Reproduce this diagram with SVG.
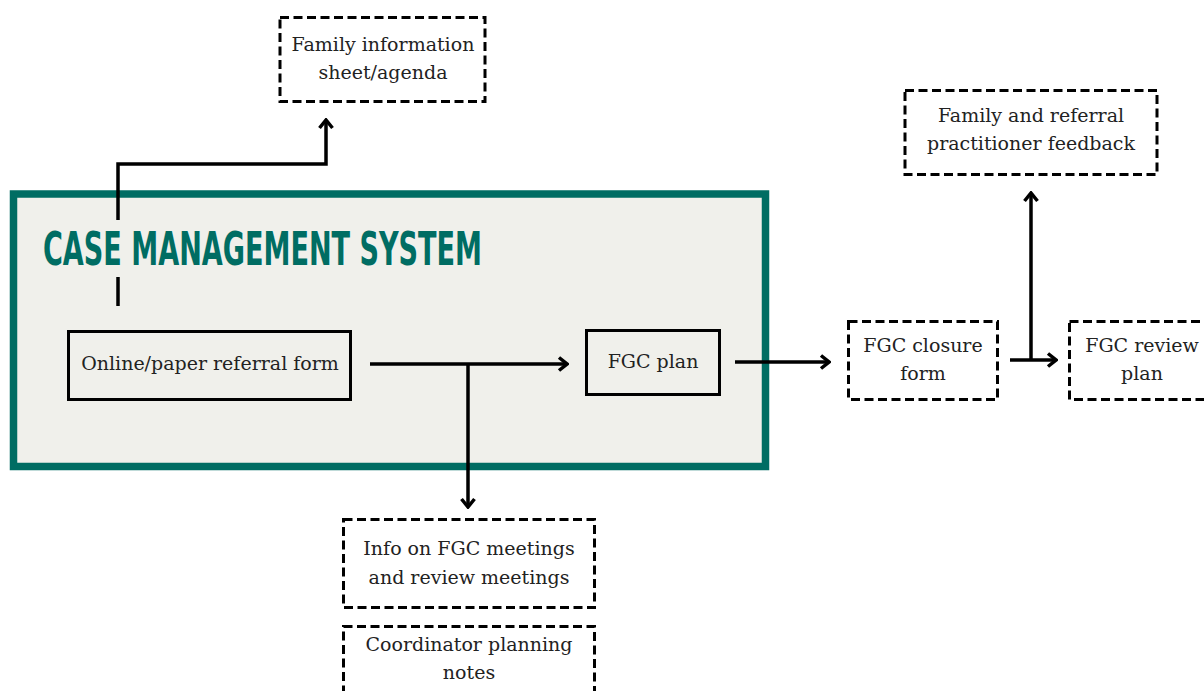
<svg xmlns="http://www.w3.org/2000/svg" width="1204" height="691" viewBox="0 0 1204 691">
<style>
.t{font-family:"DejaVu Serif","Liberation Serif",serif;font-size:19px;fill:#222;text-anchor:middle}
.solid{fill:none;stroke:#000;stroke-width:3}
.dash{fill:#fff;stroke:#000;stroke-width:3;stroke-dasharray:9 4.5}
.ln{fill:none;stroke:#000;stroke-width:3.5}
.title{font-family:"DejaVu Sans Condensed","DejaVu Sans",sans-serif;font-weight:bold;font-size:47px;fill:#006d63}
</style>
<defs>
<marker id="ah" viewBox="0 0 12 16" refX="10" refY="8" markerWidth="12" markerHeight="16" markerUnits="userSpaceOnUse" orient="auto">
<path d="M2,1.5 L10,8 L2,14.5" fill="none" stroke="#000" stroke-width="3.5"/>
</marker>
</defs>
<rect width="1204" height="691" fill="#fff"/>
<g id="case-management-system">
<rect x="13.5" y="194" width="752" height="272.5" fill="#f0f0eb" stroke="#006d63" stroke-width="7.5"/>
<text class="title" x="43" y="265" textLength="439" lengthAdjust="spacingAndGlyphs">CASE MANAGEMENT SYSTEM</text>
</g>
<g id="connectors">
<polyline class="ln" points="118,220 118,164 326,164 326,120" marker-end="url(#ah)"/>
<line class="ln" x1="118" y1="277" x2="118" y2="306"/>
<line class="ln" x1="370" y1="364" x2="567" y2="364" marker-end="url(#ah)"/>
<line class="ln" x1="468" y1="364" x2="468" y2="507" marker-end="url(#ah)"/>
<line class="ln" x1="735" y1="362" x2="829" y2="362" marker-end="url(#ah)"/>
<line class="ln" x1="1010" y1="360" x2="1056" y2="360" marker-end="url(#ah)"/>
<line class="ln" x1="1031" y1="360" x2="1031" y2="193" marker-end="url(#ah)"/>
</g>
<g id="family-information">
<rect class="dash" x="280" y="17.5" width="205" height="84"/>
<text class="t" x="383" y="51">Family information</text>
<text class="t" x="383" y="79">sheet/agenda</text>
</g>
<g id="online-referral-form">
<rect class="solid" x="68.5" y="331.5" width="282" height="68"/>
<text class="t" x="210" y="370">Online/paper referral form</text>
</g>
<g id="fgc-plan">
<rect class="solid" x="586.5" y="330.5" width="133" height="64"/>
<text class="t" x="653" y="368">FGC plan</text>
</g>
<g id="fgc-closure-form">
<rect class="dash" x="848.5" y="321.5" width="149" height="78"/>
<text class="t" x="923" y="352">FGC closure</text>
<text class="t" x="923" y="380">form</text>
</g>
<g id="fgc-review-plan">
<rect class="dash" x="1069.5" y="321.5" width="150" height="78"/>
<text class="t" x="1142" y="352">FGC review</text>
<text class="t" x="1142" y="380">plan</text>
</g>
<g id="family-referral-feedback">
<rect class="dash" x="905" y="90.5" width="252" height="84"/>
<text class="t" x="1031" y="122">Family and referral</text>
<text class="t" x="1031" y="150">practitioner feedback</text>
</g>
<g id="info-fgc-meetings">
<rect class="dash" x="343.5" y="519.5" width="251" height="88"/>
<text class="t" x="469" y="555">Info on FGC meetings</text>
<text class="t" x="469" y="584">and review meetings</text>
</g>
<g id="coordinator-planning-notes">
<rect class="dash" x="343.5" y="626.5" width="251" height="80"/>
<text class="t" x="469" y="651">Coordinator planning</text>
<text class="t" x="469" y="679">notes</text>
</g>
</svg>
